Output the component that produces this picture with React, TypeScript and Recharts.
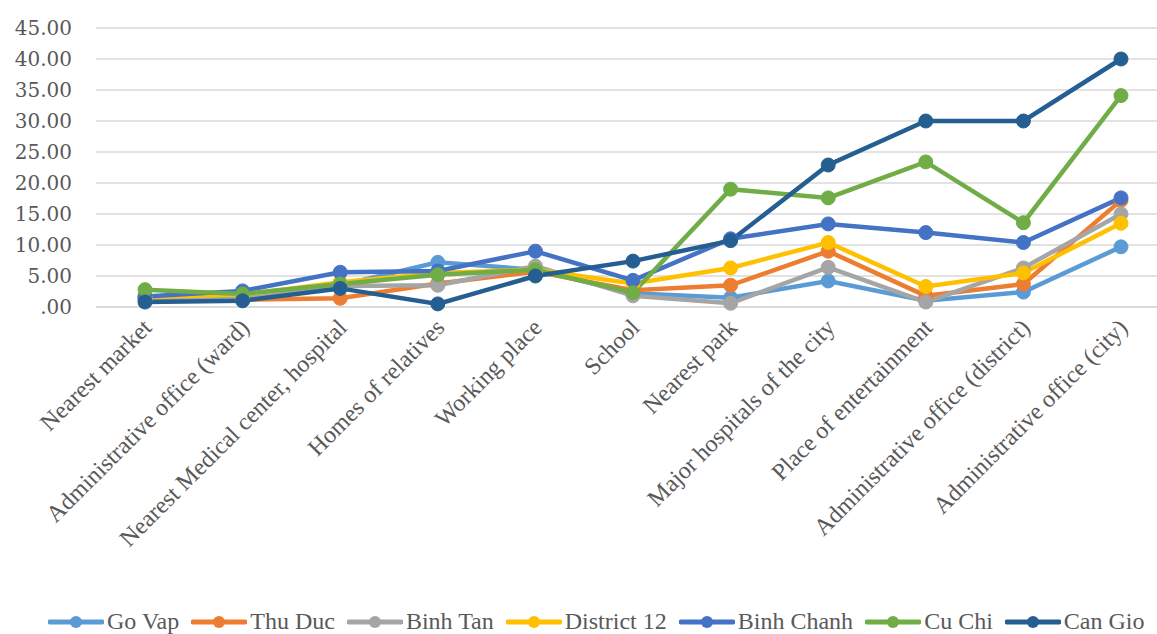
import { LineChart, Line, XAxis, YAxis, CartesianGrid, Legend } from "recharts";

const categories = [
  "Nearest market",
  "Administrative office (ward)",
  "Nearest Medical center, hospital",
  "Homes of relatives",
  "Working place",
  "School",
  "Nearest park",
  "Major hospitals of the city",
  "Place of entertainment",
  "Administrative office (district)",
  "Administrative office (city)",
];

const goVap = [1.5, 1.6, 3.5, 7.2, 6.0, 2.2, 1.5, 4.2, 1.0, 2.4, 9.7];
const thuDuc = [1.2, 1.2, 1.4, 3.8, 5.7, 2.7, 3.5, 9.0, 1.8, 3.7, 17.2];
const binhTan = [1.3, 1.6, 3.4, 3.5, 6.6, 1.8, 0.6, 6.4, 0.8, 6.3, 15.0];
const district12 = [1.6, 2.0, 4.0, 5.5, 6.0, 3.8, 6.3, 10.4, 3.3, 5.5, 13.5];
const binhChanh = [1.7, 2.6, 5.6, 5.8, 9.0, 4.3, 11.0, 13.4, 12.0, 10.4, 17.6];
const cuChi = [2.8, 2.1, 3.7, 5.2, 6.0, 2.3, 19.0, 17.6, 23.4, 13.6, 34.1];
const canGio = [0.8, 1.0, 3.0, 0.5, 5.0, 7.4, 10.7, 22.9, 30.0, 30.0, 40.0];

const yTicks = [0, 5, 10, 15, 20, 25, 30, 35, 40, 45];

const series = [
  { key: "Go Vap", values: goVap, color: "#5B9BD5" },
  { key: "Thu Duc", values: thuDuc, color: "#ED7D31" },
  { key: "Binh Tan", values: binhTan, color: "#A5A5A5" },
  { key: "District 12", values: district12, color: "#FFC000" },
  { key: "Binh Chanh", values: binhChanh, color: "#4472C4" },
  { key: "Cu Chi", values: cuChi, color: "#70AD47" },
  { key: "Can Gio", values: canGio, color: "#255E91" },
];

const chartData = categories.map((name, i) => {
  const row: Record<string, string | number> = { name };
  series.forEach((s) => (row[s.key] = s.values[i]));
  return row;
});

const serif = "'Liberation Serif', 'Times New Roman', serif";

function XTick({ x, y, payload }: any) {
  return (
    <g transform={`translate(${x + 8},${y + 14}) rotate(-45)`}>
      <text textAnchor="end" fontFamily={serif} fontSize={24} fill="#595959">
        {payload.value}
      </text>
    </g>
  );
}

function LegendBox() {
  return (
    <div style={{ display: "flex", alignItems: "center", paddingLeft: 48, paddingTop: 2, height: 29, fontFamily: serif, fontSize: 24, color: "#595959", whiteSpace: "nowrap" }}>
      {series.map((s) => (
        <div key={s.key} style={{ display: "flex", alignItems: "center", marginRight: 12 }}>
          <svg width={56} height={16}>
            <line x1={2} y1={8} x2={54} y2={8} stroke={s.color} strokeWidth={5} strokeLinecap="round" />
            <circle cx={28} cy={8} r={6} fill={s.color} />
          </svg>
          <span style={{ marginLeft: 3, lineHeight: "29px" }}>{s.key}</span>
        </div>
      ))}
    </div>
  );
}

export default function App() {
  return (
    <div style={{ position: "fixed", left: 0, top: 0, width: 1157, height: 634, overflow: "hidden", background: "#fff" }}>
      <LineChart width={1180} height={634} data={chartData} margin={{ top: 28, right: 10, left: 0, bottom: 0 }}>
        <CartesianGrid vertical={false} stroke="#D9D9D9" strokeWidth={1.5} />
        <XAxis
          dataKey="name"
          interval={0}
          height={298}
          padding={{ left: 49, right: 49 }}
          tick={<XTick />}
          tickLine={false}
          axisLine={{ stroke: "#D9D9D9", strokeWidth: 1.5 }}
        />
        <YAxis
          width={96}
          domain={[0, 45]}
          ticks={yTicks}
          axisLine={false}
          tickLine={false}
          tickFormatter={(v: number) => (v === 0 ? ".00" : v.toFixed(2))}
          tick={{ fill: "#595959", fontSize: 20, fontFamily: "'DejaVu Serif', serif" }}
          dx={-16}
        />
        <Legend
          verticalAlign="bottom"
          height={29}
          content={<LegendBox />}
          wrapperStyle={{ left: 0, width: 1157, bottom: 0 }}
        />
        {series.map((s) => (
          <Line
            key={s.key}
            dataKey={s.key}
            stroke={s.color}
            strokeWidth={4.5}
            dot={{ r: 7, fill: s.color, stroke: s.color, strokeWidth: 1 }}
            activeDot={false}
            isAnimationActive={false}
          />
        ))}
      </LineChart>
    </div>
  );
}
